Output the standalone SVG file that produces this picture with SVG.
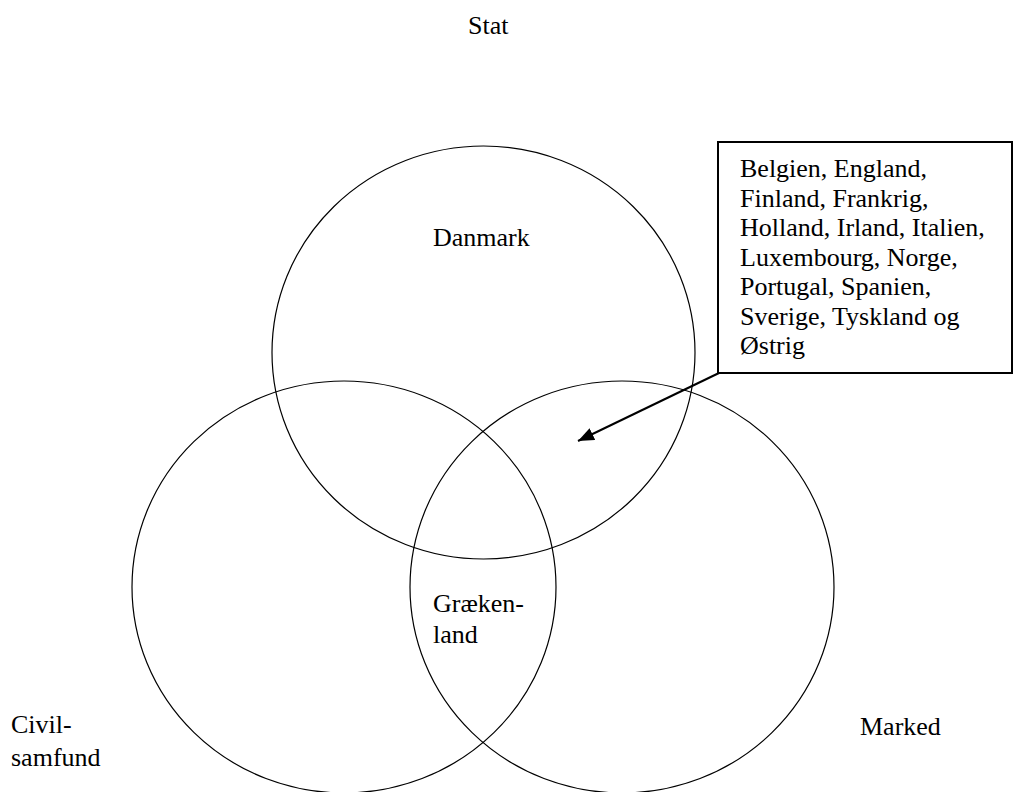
<svg xmlns="http://www.w3.org/2000/svg" width="1013" height="792" viewBox="0 0 1013 792">
<style>
.t{font-family:"Liberation Serif","Times New Roman",serif;font-size:26px;fill:#000}
.c{fill:none;stroke:#000;stroke-width:1.2}
.box{fill:#fff;stroke:#000;stroke-width:2}
.arr{stroke:#000;stroke-width:2;fill:none}
</style>
<defs>
<marker id="ah" markerUnits="userSpaceOnUse" markerWidth="18" markerHeight="14" refX="16" refY="6.5" orient="auto">
<path d="M0,0 L16,6.5 L0,13 z" fill="#000"/>
</marker>
</defs>
<rect width="1013" height="792" fill="#fff"/>
<g id="stat"><text class="t" x="468" y="34">Stat</text></g>
<g id="circle-stat"><ellipse class="c" cx="483.5" cy="352.5" rx="211.5" ry="206.5"/></g>
<g id="circle-civil"><ellipse class="c" cx="344" cy="587" rx="212" ry="206"/></g>
<g id="circle-marked"><ellipse class="c" cx="622" cy="587" rx="212" ry="206"/></g>
<g id="danmark"><text class="t" x="433" y="246">Danmark</text></g>
<g id="graekenland"><text class="t" x="433" y="612">Græken-</text><text class="t" x="433" y="643">land</text></g>
<g id="civil"><text class="t" x="11" y="733">Civil-</text><text class="t" x="11" y="766">samfund</text></g>
<g id="marked"><text class="t" x="860" y="735">Marked</text></g>
<g id="box">
<rect class="box" x="718" y="142" width="294" height="231"/>
<text class="t" x="740" y="177">Belgien, England,</text>
<text class="t" x="740" y="206.5">Finland, Frankrig,</text>
<text class="t" x="740" y="236">Holland, Irland, Italien,</text>
<text class="t" x="740" y="265.5">Luxembourg, Norge,</text>
<text class="t" x="740" y="295">Portugal, Spanien,</text>
<text class="t" x="740" y="324.5">Sverige, Tyskland og</text>
<text class="t" x="740" y="354">Østrig</text>
</g>
<g id="connectors">
<line class="arr" x1="719" y1="373" x2="578" y2="441" marker-end="url(#ah)"/>
</g>
</svg>
